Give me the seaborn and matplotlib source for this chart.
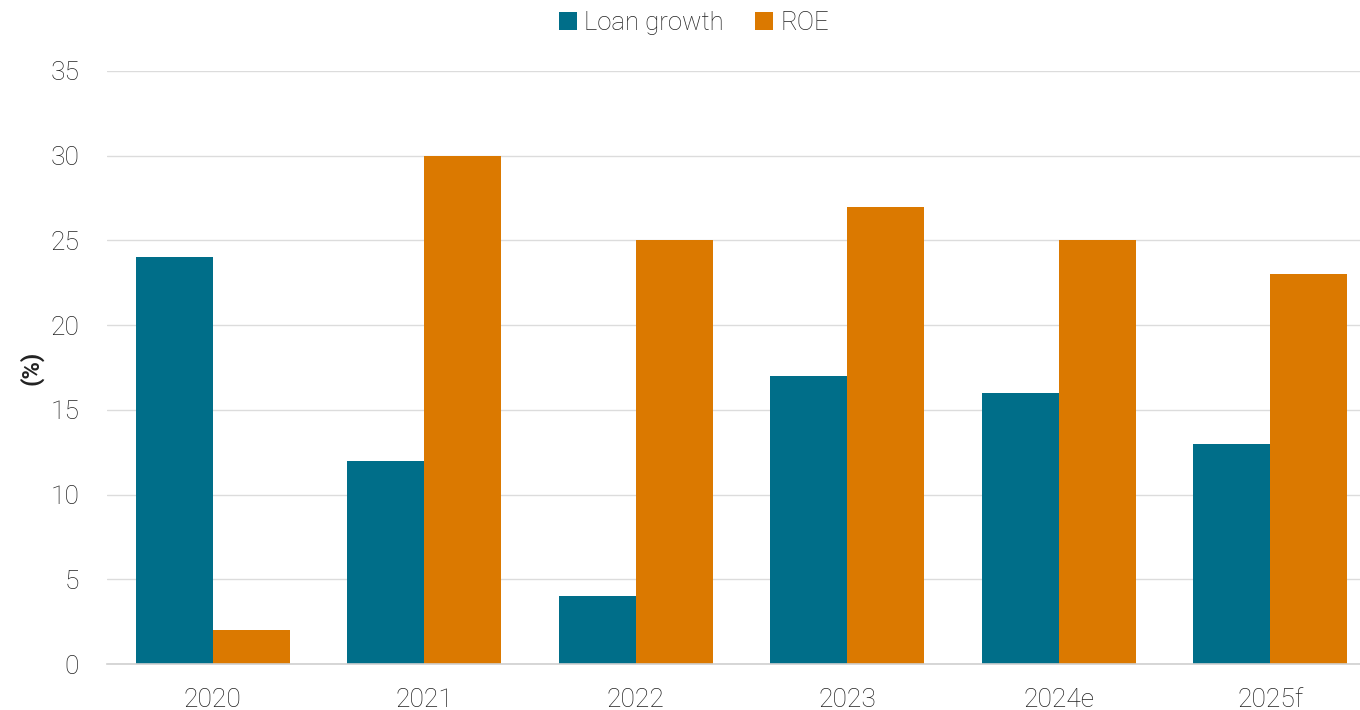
import matplotlib
matplotlib.use("Agg")
import matplotlib.pyplot as plt
import seaborn as sns
import pandas as pd
from matplotlib.ticker import FixedLocator

years = ["2020", "2021", "2022", "2023", "2024e", "2025f"]
loan_growth = [24, 12, 4, 17, 16, 13]
roe = [2, 30, 25, 27, 25, 23]
series_names = ["Loan growth", "ROE"]
colors = ["#006E89", "#DB7900"]
y_ticks = [0, 5, 10, 15, 20, 25, 30, 35]

df = pd.DataFrame({
    "year": years * 2,
    "value": loan_growth + roe,
    "series": [series_names[0]] * len(years) + [series_names[1]] * len(years),
})

sns.set_theme(style="white")
plt.rcParams["font.family"] = ["Roboto", "DejaVu Sans"]
text_color = "#222222"

fig = plt.figure(figsize=(13.6, 7.1), dpi=100)
ax = fig.add_axes([107 / 1360, 46 / 710, 1269 / 1360, 593 / 710])

sns.barplot(data=df, x="year", y="value", hue="series", order=years,
            hue_order=series_names, palette=colors, width=0.73, gap=0,
            saturation=1, edgecolor="none", ax=ax)

ax.set_xlim(-0.5, len(years) - 0.5)
ax.set_ylim(0, 35)
ax.set_yticks(y_ticks)
ax.yaxis.grid(True, color="#dcdcdc", linewidth=1)
ax.set_axisbelow(True)

for side in ["top", "right", "left"]:
    ax.spines[side].set_visible(False)
ax.spines["bottom"].set_color("#d0d0d0")
ax.spines["bottom"].set_linewidth(1.2)

ax.xaxis.set_minor_locator(FixedLocator([i - 0.5 for i in range(len(years) + 1)]))
ax.tick_params(axis="x", which="major", length=0, pad=17, labelsize=19,
               labelcolor=text_color)
ax.tick_params(axis="x", which="minor", length=8, width=1.2, color="#d0d0d0",
               direction="out")
ax.tick_params(axis="y", length=0, pad=20, labelsize=19, labelcolor=text_color)
for lab in ax.get_xticklabels() + ax.get_yticklabels():
    lab.set_fontweight("light")

ax.set_xlabel("")
ax.set_ylabel("(%)", fontsize=17, fontweight="bold", color=text_color, labelpad=5)

leg = ax.legend(loc="upper center", bbox_to_anchor=(587 / 1269, 1.14),
                ncol=2, frameon=False, fontsize=18.5, handlelength=0.7,
                handleheight=0.7, handletextpad=0.3, columnspacing=1.2)
for t in leg.get_texts():
    t.set_color(text_color)
    t.set_fontweight("light")

fig.savefig("out.png", dpi=100)
